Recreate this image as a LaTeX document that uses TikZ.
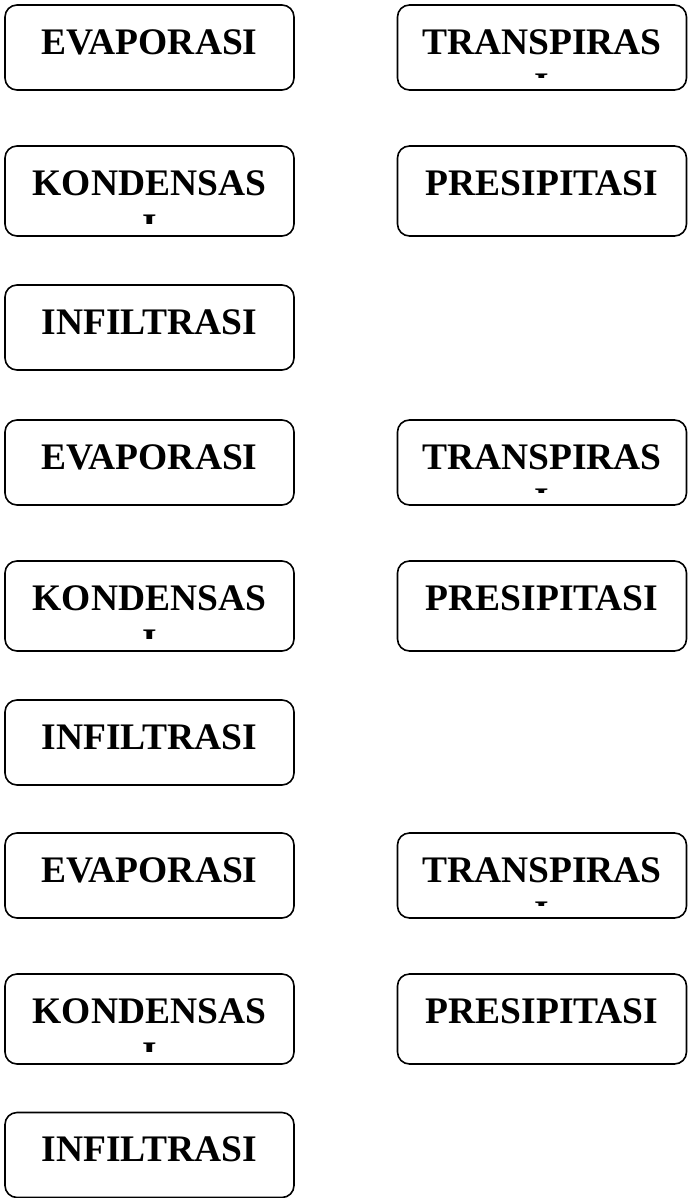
\documentclass[tikz,border=0pt]{standalone}
\usepackage{fontspec}
\setmainfont{Liberation Serif}
\usepackage{tikz}
\usetikzlibrary{positioning}

\begin{document}
\begin{tikzpicture}[x=1pt, y=-1pt,
	kotak/.style={draw, line width=1.6pt, rounded corners=12pt, minimum width=289pt, minimum height=85pt, inner sep=0pt},
	kotaktinggi/.style={kotak, minimum height=90pt},
	tulisan/.style={anchor=base, inner sep=0pt, font=\fontsize{37.5}{44}\selectfont\bfseries}]
	\useasboundingbox (0,0) rectangle (691,1198);

	% Group 1
	%Row 1
	\node[kotak] (evap1) at (149.5,47.5) {};
	\node[tulisan] (evap1t) at ([yshift=-50pt]evap1.north) {EVAPORASI};
	\node[kotak] (trans1) at (542,47.5) {};
	\node[tulisan] (trans1t) at ([yshift=-50pt]trans1.north) {TRANSPIRAS};
	\begin{scope}
		\clip (trans1.north west) rectangle ([yshift=13pt]trans1.south east);
		\node[tulisan] (trans1i) at ([yshift=-94pt]trans1.north) {I};
	\end{scope}
	%Row 2
	\node[kotaktinggi] (kond1) at (149.5,191) {};
	\node[tulisan] (kond1t) at ([yshift=-50pt]kond1.north) {KONDENSAS};
	\begin{scope}
		\clip (kond1.north west) rectangle ([yshift=13pt]kond1.south east);
		\node[tulisan] (kond1i) at ([yshift=-94pt]kond1.north) {I};
	\end{scope}
	\node[kotaktinggi] (pres1) at (542,191) {};
	\node[tulisan] (pres1t) at ([yshift=-50pt]pres1.north) {PRESIPITASI};
	%Row 3
	\node[kotak] (infil1) at (149.5,327.5) {};
	\node[tulisan] (infil1t) at ([yshift=-50pt]infil1.north) {INFILTRASI};

	% Group 2
	%Row 1
	\node[kotak] (evap2) at (149.5,462.5) {};
	\node[tulisan] (evap2t) at ([yshift=-50pt]evap2.north) {EVAPORASI};
	\node[kotak] (trans2) at (542,462.5) {};
	\node[tulisan] (trans2t) at ([yshift=-50pt]trans2.north) {TRANSPIRAS};
	\begin{scope}
		\clip (trans2.north west) rectangle ([yshift=13pt]trans2.south east);
		\node[tulisan] (trans2i) at ([yshift=-94pt]trans2.north) {I};
	\end{scope}
	%Row 2
	\node[kotaktinggi] (kond2) at (149.5,606) {};
	\node[tulisan] (kond2t) at ([yshift=-50pt]kond2.north) {KONDENSAS};
	\begin{scope}
		\clip (kond2.north west) rectangle ([yshift=13pt]kond2.south east);
		\node[tulisan] (kond2i) at ([yshift=-94pt]kond2.north) {I};
	\end{scope}
	\node[kotaktinggi] (pres2) at (542,606) {};
	\node[tulisan] (pres2t) at ([yshift=-50pt]pres2.north) {PRESIPITASI};
	%Row 3
	\node[kotak] (infil2) at (149.5,742.5) {};
	\node[tulisan] (infil2t) at ([yshift=-50pt]infil2.north) {INFILTRASI};

	% Group 3
	%Row 1
	\node[kotak] (evap3) at (149.5,875.5) {};
	\node[tulisan] (evap3t) at ([yshift=-50pt]evap3.north) {EVAPORASI};
	\node[kotak] (trans3) at (542,875.5) {};
	\node[tulisan] (trans3t) at ([yshift=-50pt]trans3.north) {TRANSPIRAS};
	\begin{scope}
		\clip (trans3.north west) rectangle ([yshift=13pt]trans3.south east);
		\node[tulisan] (trans3i) at ([yshift=-94pt]trans3.north) {I};
	\end{scope}
	%Row 2
	\node[kotaktinggi] (kond3) at (149.5,1019) {};
	\node[tulisan] (kond3t) at ([yshift=-50pt]kond3.north) {KONDENSAS};
	\begin{scope}
		\clip (kond3.north west) rectangle ([yshift=13pt]kond3.south east);
		\node[tulisan] (kond3i) at ([yshift=-94pt]kond3.north) {I};
	\end{scope}
	\node[kotaktinggi] (pres3) at (542,1019) {};
	\node[tulisan] (pres3t) at ([yshift=-50pt]pres3.north) {PRESIPITASI};
	%Row 3
	\node[kotak] (infil3) at (149.5,1155) {};
	\node[tulisan] (infil3t) at ([yshift=-50pt]infil3.north) {INFILTRASI};

\end{tikzpicture}
\end{document}
